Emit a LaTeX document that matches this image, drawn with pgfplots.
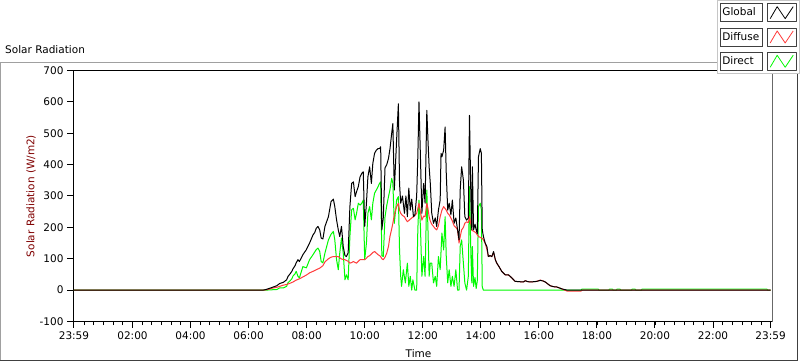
\documentclass[border=0pt]{standalone}
\usepackage{fontspec}
\setmainfont{DejaVu Sans}
\usepackage{pgfplots}
\pgfplotsset{compat=1.18}
\definecolor{lvred}{RGB}{255,60,60}
\definecolor{lvgreen}{RGB}{0,250,0}
\definecolor{lvmaroon}{RGB}{128,0,0}
\definecolor{lvframe}{RGB}{160,160,160}
\definecolor{lvdark}{RGB}{64,64,64}
\newcommand\lv{\fontsize{10.5bp}{12bp}\selectfont}
\begin{document}
\begin{tikzpicture}
\useasboundingbox (0,0) rectangle (800bp,361bp);
\fill[white] (0,0) rectangle (800bp,361bp);
\draw[lvframe, line width=1bp] (0.5bp,0.5bp) -- (0.5bp,298.5bp) -- (720bp,298.5bp);
\draw[lvdark, line width=1bp] (0.5bp,1bp) -- (797.5bp,1bp) -- (797.5bp,290bp);
\node[anchor=west, inner sep=0pt, font=\lv] at (5bp,311bp) {Solar Radiation};
\begin{axis}[
  at={(73bp,39.5bp)}, anchor=south west,
  scale only axis, width=699.5bp, height=251bp,
  xmin=-0.05, xmax=24.05, ymin=-100, ymax=700,
  axis line style={black, line width=1bp},
  tick align=outside, xtick pos=bottom, ytick pos=left,
  major tick length=6bp, minor tick length=3.5bp,
  tick style={black, line width=1bp},
  xtick={-0.0167,2,4,6,8,10,12,14,16,18,20,22,23.983},
  xticklabels={23:59,02:00,04:00,06:00,08:00,10:00,12:00,14:00,16:00,18:00,20:00,22:00,23:59},
  minor xtick={0.3333,0.6667,...,23.7},
  ytick={-100,0,100,200,300,400,500,600,700},
  yticklabels={-100,0,100,200,300,400,500,600,700},
  ticklabel style={font=\lv},
  xticklabel style={yshift=-1bp},
  label style={font=\lv},
  ylabel={Solar Radiation (W/m2)},
  ylabel style={lvmaroon, at={(axis description cs:-0.060,0.5)}, anchor=center},
  xlabel={Time},
  xlabel style={at={(axis description cs:0.494,-0.1295)}, anchor=center},
  reverse legend,
  legend plot pos=right,
  legend cell align=left,
  legend style={at={(axis description cs:0.9202,1.281)}, anchor=north west,
    draw=lvframe!60, fill=white, inner sep=3bp, row sep=5.5bp, column sep=4bp,
    font=\lv, line width=0.6bp,
    nodes={draw=black!75, line width=0.8bp, fill=white, inner sep=2bp,
      text width=38bp, minimum height=18bp, align=left}},
  legend image code/.code={
    \draw[black!75, line width=0.8bp, fill=white, solid] (0bp,-9bp) rectangle (29bp,9bp);
    \draw[#1, line width=0.8bp] (3bp,-6bp) -- (10bp,6bp) -- (18bp,-6bp) -- (26bp,6bp);},
]
\addplot[lvgreen, line width=1bp, line join=round] coordinates {
(-0.0167,0) (6.6,0) (6.97,2) (7.07,7) (7.2,7) (7.31,12) (7.36,24) (7.43,30) (7.49,36) (7.53,45) (7.6,52) (7.64,60) (7.7,44) (7.75,39) (7.87,75) (7.99,71) (8.1,97) (8.22,113) (8.28,122) (8.33,129) (8.39,134) (8.45,123) (8.5,91) (8.56,87) (8.63,118) (8.75,160) (8.84,178) (8.92,187) (8.97,160) (9.03,97) (9.09,65) (9.14,118) (9.2,166) (9.26,118) (9.32,33) (9.37,49) (9.43,33) (9.49,171) (9.55,256) (9.61,261) (9.67,224) (9.72,245) (9.78,277) (9.84,271) (9.9,277) (9.95,287) (10.0,97) (10.06,150) (10.11,245) (10.17,266) (10.23,224) (10.28,277) (10.34,309) (10.4,319) (10.46,330) (10.51,340) (10.55,345) (10.59,110) (10.64,107) (10.7,234) (10.76,270) (10.82,298) (10.87,320) (10.93,356) (10.97,341) (11.02,213) (11.1,287) (11.16,298) (11.2,128) (11.24,44) (11.27,12) (11.33,65) (11.4,23) (11.47,86) (11.52,12) (11.57,44) (11.62,0) (11.66,33) (11.73,0) (11.79,0) (11.83,192) (11.87,287) (11.92,203) (11.97,44) (12.03,107) (12.08,44) (12.14,319) (12.18,192) (12.22,44) (12.26,86) (12.31,86) (12.37,23) (12.43,44) (12.48,12) (12.54,107) (12.6,65) (12.66,182) (12.72,128) (12.77,234) (12.81,107) (12.86,23) (12.91,65) (12.97,12) (13.02,44) (13.08,12) (13.14,65) (13.2,0) (13.25,0) (13.29,139) (13.34,160) (13.4,86) (13.45,23) (13.51,0) (13.57,44) (13.61,330) (13.66,107) (13.69,23) (13.71,139) (13.75,12) (13.8,40) (13.84,5) (13.88,30) (13.92,266) (13.98,277) (14.02,256) (14.05,10) (14.09,0) (17.45,0) (17.48,3) (18.05,3) (18.07,0) (18.41,0) (18.43,3) (18.54,3) (18.56,0) (18.67,0) (18.69,3) (18.8,3) (18.82,0) (19.19,0) (19.21,3) (19.32,3) (19.34,0) (19.53,0) (19.55,3) (23.86,3) (23.88,0) (23.983,0)
};
\addlegendentry{Direct}
\addplot[lvred, line width=1bp, line join=round] coordinates {
(-0.0167,0) (6.5,0) (6.6,1) (6.7,3) (6.85,7) (6.97,9) (7.07,12) (7.2,16) (7.31,18) (7.43,22) (7.53,26) (7.64,32) (7.75,36) (7.87,42) (7.99,48) (8.1,55) (8.22,60) (8.33,65) (8.45,70) (8.56,78) (8.63,90) (8.75,100) (8.84,105) (8.92,107) (9.09,107) (9.2,99) (9.32,97) (9.43,92) (9.49,86) (9.55,88) (9.61,91) (9.67,88) (9.72,86) (9.78,92) (9.84,97) (10.0,97) (10.06,102) (10.11,107) (10.17,110) (10.23,115) (10.28,120) (10.34,123) (10.4,118) (10.46,113) (10.51,110) (10.55,107) (10.59,100) (10.64,97) (10.7,105) (10.76,118) (10.82,140) (10.87,171) (10.93,195) (10.97,213) (11.02,240) (11.1,266) (11.16,277) (11.2,255) (11.24,245) (11.3,238) (11.37,234) (11.42,225) (11.47,218) (11.52,222) (11.57,226) (11.62,230) (11.68,234) (11.73,238) (11.79,245) (11.83,260) (11.87,277) (11.92,250) (11.97,223) (12.03,236) (12.08,234) (12.14,277) (12.18,260) (12.22,234) (12.26,220) (12.31,210) (12.37,203) (12.43,196) (12.48,192) (12.54,205) (12.6,234) (12.66,255) (12.72,266) (12.77,260) (12.81,255) (12.86,245) (12.91,240) (12.97,230) (13.02,220) (13.08,205) (13.14,200) (13.2,192) (13.25,150) (13.29,170) (13.34,192) (13.4,200) (13.45,213) (13.51,218) (13.57,215) (13.61,234) (13.66,210) (13.69,192) (13.71,190) (13.75,188) (13.8,185) (13.84,182) (13.88,176) (13.92,171) (13.98,168) (14.02,166) (14.05,165) (14.09,160) (14.15,150) (14.21,130) (14.26,107) (14.32,110) (14.38,107) (14.44,120) (14.5,97) (14.55,86) (14.62,76) (14.72,60) (14.84,49) (14.95,49) (15.07,39) (15.18,28) (15.3,27) (15.47,26) (15.53,30) (15.62,27) (15.7,26) (15.85,27) (15.93,28) (16.05,32) (16.15,29) (16.22,26) (16.39,14) (16.5,11) (16.62,10) (16.79,4) (16.97,-3) (17.45,-3) (17.5,0) (23.983,0)
};
\addlegendentry{Diffuse}
\addplot[black, line width=1bp, line join=round] coordinates {
(-0.0167,0) (6.5,0) (6.6,2) (6.7,5) (6.85,10) (6.97,14) (7.07,21) (7.2,25) (7.31,33) (7.36,44) (7.43,52) (7.49,60) (7.53,68) (7.6,78) (7.64,87) (7.7,97) (7.75,91) (7.87,113) (7.99,129) (8.1,150) (8.22,176) (8.28,184) (8.33,197) (8.39,203) (8.45,192) (8.5,166) (8.56,163) (8.63,203) (8.75,234) (8.84,282) (8.92,290) (8.97,266) (9.03,224) (9.09,192) (9.14,171) (9.2,203) (9.26,139) (9.32,110) (9.37,107) (9.43,119) (9.49,266) (9.55,340) (9.61,345) (9.67,298) (9.72,314) (9.78,330) (9.84,361) (9.9,372) (9.95,377) (10.0,203) (10.06,277) (10.11,361) (10.17,393) (10.23,340) (10.28,404) (10.34,436) (10.4,446) (10.46,451) (10.51,451) (10.55,457) (10.59,192) (10.64,230) (10.7,390) (10.76,400) (10.82,420) (10.87,450) (10.93,500) (10.97,531) (11.02,319) (11.1,480) (11.16,594) (11.2,340) (11.24,277) (11.3,300) (11.37,245) (11.42,300) (11.47,234) (11.52,325) (11.57,255) (11.62,290) (11.68,234) (11.73,240) (11.79,300) (11.83,425) (11.87,600) (11.92,425) (11.97,245) (12.03,340) (12.08,277) (12.14,573) (12.18,478) (12.22,393) (12.26,340) (12.31,245) (12.37,213) (12.43,230) (12.48,203) (12.54,255) (12.6,287) (12.63,436) (12.66,425) (12.72,446) (12.77,520) (12.81,372) (12.86,255) (12.91,277) (12.97,240) (13.02,287) (13.08,213) (13.14,230) (13.2,192) (13.25,160) (13.29,319) (13.34,393) (13.4,351) (13.45,234) (13.51,223) (13.57,230) (13.61,557) (13.66,287) (13.69,192) (13.71,393) (13.75,192) (13.8,210) (13.84,192) (13.88,180) (13.92,425) (13.98,451) (14.02,436) (14.05,192) (14.09,171) (14.15,150) (14.21,139) (14.26,107) (14.32,110) (14.38,107) (14.44,123) (14.5,97) (14.55,86) (14.62,76) (14.72,60) (14.84,49) (14.95,49) (15.07,39) (15.18,28) (15.3,27) (15.47,26) (15.53,30) (15.62,27) (15.7,26) (15.85,27) (15.93,28) (16.05,31) (16.15,29) (16.22,26) (16.39,14) (16.5,11) (16.62,10) (16.79,4) (16.97,0) (23.983,0)
};
\addlegendentry{Global}
\draw[lvframe, line width=1bp] (rel axis cs:1,0) -- (rel axis cs:1,1);
\end{axis}
\end{tikzpicture}
\end{document}
